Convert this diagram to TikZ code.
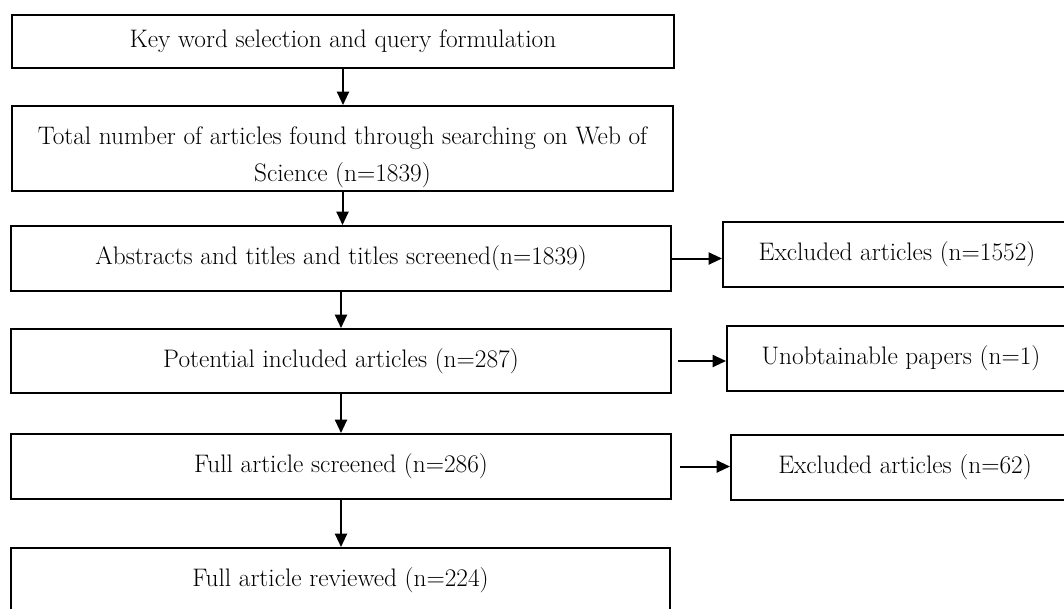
\documentclass[tikz,border=0pt]{standalone}
\usepackage{tikz}
\usetikzlibrary{positioning,arrows.meta}

\begin{document}
\begin{tikzpicture}[x = 0.75pt, y = -0.75pt,
  box/.style = {draw, line width=1.5pt, rectangle, inner sep=0pt,
    font=\fontsize{19}{27.5}\selectfont, align=center},
  arr/.style = {line width=1.5pt, -{Triangle[length=10pt,width=9pt]}}]
\useasboundingbox (0,0) rectangle (1064,608);
\clip (0,0) rectangle (1064,608);

\coordinate (c1) at (343, 41.5);
\coordinate (c2) at (342.5, 148.5);
\coordinate (c3) at (341, 258.5);
\coordinate (c4) at (897, 254.5);
\coordinate (c5) at (341, 361);
\coordinate (c6) at (901, 358.5);
\coordinate (c7) at (341, 466.5);
\coordinate (c8) at (905, 467.5);
\coordinate (c9) at (340.5, 580);

\node[box, minimum width=662*0.75pt, minimum height=53*0.75pt] (b1) at (c1)
  {Key word selection and query formulation};
\node[box, minimum width=661*0.75pt, minimum height=85*0.75pt] (b2) at (c2)
  {\rule{0pt}{26pt}Total number of articles found through searching on Web of\\Science (n=1839)};
\node[box, minimum width=660*0.75pt, minimum height=65*0.75pt] (b3) at (c3)
  {Abstracts and titles and titles screened(n=1839)};
\node[box, minimum width=348*0.75pt, minimum height=65*0.75pt] (b4) at (c4)
  {Excluded articles (n=1552)};
\node[box, minimum width=660*0.75pt, minimum height=64*0.75pt] (b5) at (c5)
  {Potential included articles (n=287)};
\node[box, minimum width=348*0.75pt, minimum height=65*0.75pt] (b6) at (c6)
  {Unobtainable papers (n=1)};
\node[box, minimum width=660*0.75pt, minimum height=65*0.75pt] (b7) at (c7)
  {Full article screened (n=286)};
\node[box, minimum width=348*0.75pt, minimum height=65*0.75pt] (b8) at (c8)
  {Excluded articles (n=62)};
\node[box, minimum width=659*0.75pt, minimum height=64*0.75pt] (b9) at (c9)
  {Full article reviewed (n=224)};

% down the main column
\draw[arr] (b1.south) -- (b1.south |- b2.north);
\draw[arr] (b2.south) -- (b2.south |- b3.north);
\draw[arr] (b3.south) -- (b3.south |- b5.north);
\draw[arr] (b5.south) -- (b5.south |- b7.north);
\draw[arr] (b7.south) -- (b7.south |- b9.north);

% side boxes
\draw[arr] (b3.east) -- (b3.east -| b4.west);
\draw[arr] ([xshift=4.5pt]b5.east) -- (b5.east -| b6.west);
\draw[arr] ([xshift=6pt]b7.east) -- (b7.east -| b8.west);
\end{tikzpicture}
\end{document}
